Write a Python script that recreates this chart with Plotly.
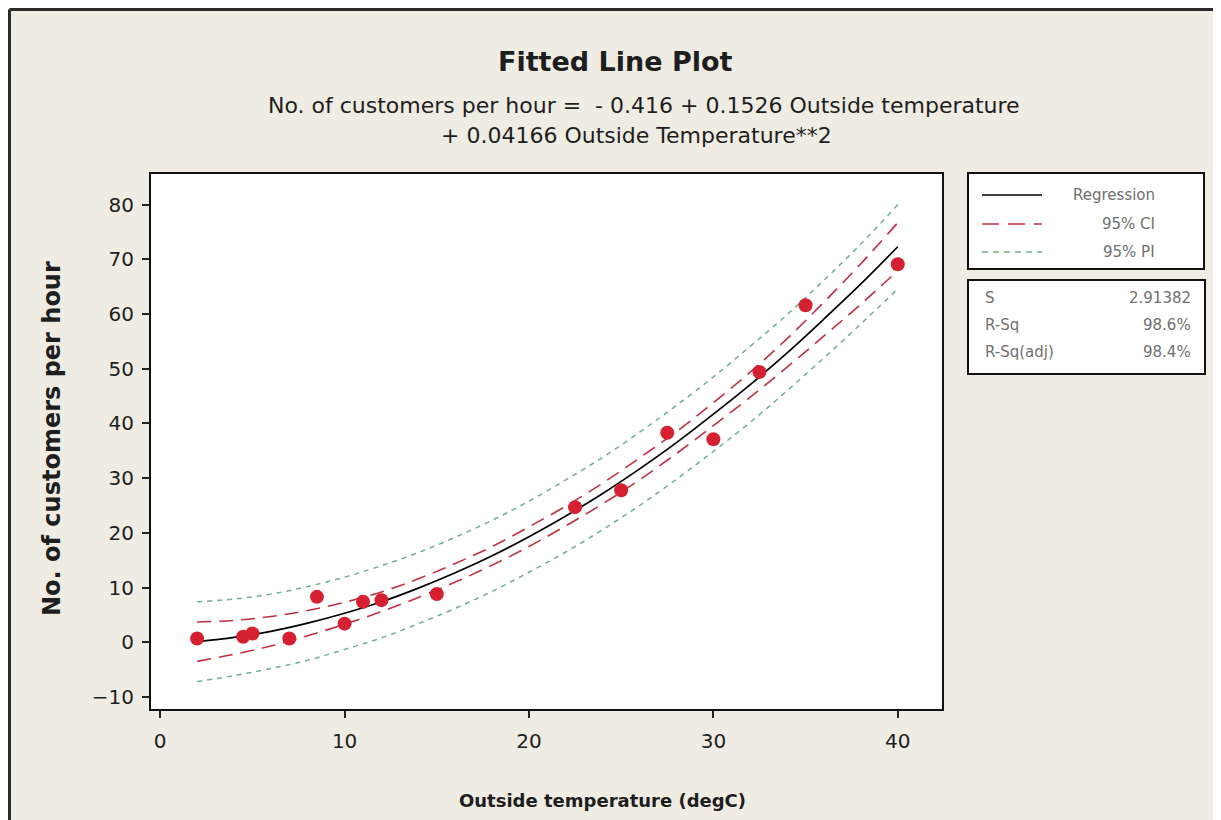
import plotly.graph_objects as go

# ---- data ----
temp = [2, 4.5, 5, 7, 8.5, 10, 11, 12, 15, 22.5, 25, 27.5, 30, 32.5, 35, 40]
customers = [0.7, 1.0, 1.6, 0.7, 8.3, 3.4, 7.4, 7.7, 8.8, 24.7, 27.8, 38.3, 37.1, 49.4, 61.6, 69.1]

band_x = [2, 4, 6, 8, 10, 12, 14, 16, 18, 20, 22, 24, 26, 28, 30, 32, 34, 36, 38, 40]
fit_y = [0.1, 0.9, 2.0, 3.5, 5.3, 7.4, 9.9, 12.7, 15.8, 19.3, 23.1, 27.2, 31.7, 36.5, 41.7, 47.1, 52.9, 59.1, 65.5, 72.3]
ci_lo = [-3.5, -2.2, -0.7, 1.2, 3.3, 5.6, 8.2, 11.0, 14.1, 17.5, 21.3, 25.3, 29.7, 34.5, 39.6, 44.8, 50.3, 56.0, 61.8, 67.9]
ci_hi = [3.7, 4.0, 4.7, 5.8, 7.3, 9.2, 11.6, 14.4, 17.5, 21.1, 24.9, 29.1, 33.7, 38.5, 43.8, 49.4, 55.5, 62.2, 69.2, 76.7]
pi_lo = [-7.2, -6.1, -4.8, -3.3, -1.3, 0.8, 3.4, 6.2, 9.3, 12.8, 16.5, 20.6, 25.0, 29.8, 34.9, 40.2, 46.0, 52.0, 58.2, 64.6]
pi_hi = [7.4, 7.9, 8.8, 10.2, 11.9, 14.0, 16.4, 19.2, 22.3, 25.8, 29.7, 33.8, 38.4, 43.3, 48.5, 54.1, 59.9, 66.2, 72.8, 80.0]

x_ticks = [0, 10, 20, 30, 40]
y_ticks = [-10, 0, 10, 20, 30, 40, 50, 60, 70, 80]

title = "Fitted Line Plot"
eq1 = "No. of customers per hour =  - 0.416 + 0.1526 Outside temperature"
eq2 = "+ 0.04166 Outside Temperature**2"
x_title = "Outside temperature (degC)"
y_title = "No. of customers per hour"
legend_labels = ["Regression", "95% CI", "95% PI"]
stat_names = ["S", "R-Sq", "R-Sq(adj)"]
stat_values = ["2.91382", "98.6%", "98.4%"]

# ---- layout geometry (screen pixels; page body has an 8px margin) ----
OFF = 8
W, H = 1221 - OFF, 820 - OFF
L, R, T, B = 151, 942, 174, 709
BG = "#efece3"
FONT = "DejaVu Sans"
TXT = "#1e1e1e"


def px(x):
    return (x - L) / (R - L)


def py(y):
    return (B - y) / (B - T)


fig = go.Figure()

fig.add_trace(go.Scatter(x=band_x, y=pi_hi, mode="lines", line=dict(color="#72b08c", width=1.5, dash="5px,5px", shape="spline"), showlegend=False, hoverinfo="skip"))
fig.add_trace(go.Scatter(x=band_x, y=pi_lo, mode="lines", line=dict(color="#72b08c", width=1.5, dash="5px,5px", shape="spline"), showlegend=False, hoverinfo="skip"))
fig.add_trace(go.Scatter(x=band_x, y=ci_hi, mode="lines", line=dict(color="#c03040", width=1.6, dash="14px,8px", shape="spline"), showlegend=False, hoverinfo="skip"))
fig.add_trace(go.Scatter(x=band_x, y=ci_lo, mode="lines", line=dict(color="#c03040", width=1.6, dash="14px,8px", shape="spline"), showlegend=False, hoverinfo="skip"))
fig.add_trace(go.Scatter(x=band_x, y=fit_y, mode="lines", line=dict(color="black", width=1.7, shape="spline"), showlegend=False, hoverinfo="skip"))
fig.add_trace(go.Scatter(x=temp, y=customers, mode="markers", marker=dict(color="#d42030", size=14, line=dict(width=0)), showlegend=False))

shapes = []
# outer frame (left and top edges of the panel)
shapes.append(dict(type="line", xref="paper", yref="paper", x0=px(OFF + 1.5), x1=px(1240), y0=py(OFF + 1.5), y1=py(OFF + 1.5), line=dict(color="#2a2a2a", width=3)))
shapes.append(dict(type="line", xref="paper", yref="paper", x0=px(OFF + 1.5), x1=px(OFF + 1.5), y0=py(OFF + 1.5), y1=py(840), line=dict(color="#2a2a2a", width=3)))
# legend boxes
shapes.append(dict(type="rect", xref="paper", yref="paper", x0=px(968), x1=px(1204), y0=py(269), y1=py(173), fillcolor="white", line=dict(color="#111", width=2)))
shapes.append(dict(type="rect", xref="paper", yref="paper", x0=px(968), x1=px(1205), y0=py(374), y1=py(280), fillcolor="white", line=dict(color="#111", width=2)))
# legend line samples
shapes.append(dict(type="line", xref="paper", yref="paper", x0=px(982), x1=px(1042), y0=py(195), y1=py(195), line=dict(color="black", width=1.5)))
shapes.append(dict(type="line", xref="paper", yref="paper", x0=px(982), x1=px(1042), y0=py(224), y1=py(224), line=dict(color="#c03040", width=1.5, dash="17px,9px")))
shapes.append(dict(type="line", xref="paper", yref="paper", x0=px(982), x1=px(1042), y0=py(252), y1=py(252), line=dict(color="#72b08c", width=1.5, dash="6px,5px")))

annotations = []


def note(text, sx, sy, size, color=TXT, anchor="center", angle=0):
    annotations.append(dict(text=text, x=px(sx), y=py(sy), xref="paper", yref="paper", showarrow=False,
                            font=dict(size=size, color=color, family=FONT), xanchor=anchor, yanchor="middle",
                            textangle=angle))


note("<b>" + title + "</b>", 615, 62, 27)
note(eq1, 644, 105, 22)
note(eq2, 636, 135, 22)
note("<b>" + x_title + "</b>", 602, 800, 18)
note("<b>" + y_title + "</b>", 52, 439, 24, angle=-90)
for lab, yy in zip(legend_labels, [195, 224, 252]):
    note(lab, 1157, yy, 15, "#707070", "right")
for nm, val, yy in zip(stat_names, stat_values, [298, 325, 352]):
    note(nm, 983, yy, 15, "#707070", "left")
    note(val, 1193, yy, 15, "#707070", "right")

fig.update_layout(
    width=W, height=H,
    margin=dict(l=L - OFF, r=W - (R - OFF), t=T - OFF, b=H - (B - OFF), autoexpand=False),
    paper_bgcolor=BG, plot_bgcolor="white",
    font=dict(family=FONT, color=TXT),
    shapes=shapes, annotations=annotations,
    showlegend=False,
)
fig.update_xaxes(range=[-0.5, 42.4], tickvals=x_ticks, ticks="outside", ticklen=7, tickwidth=1.5, tickcolor="#222",
                 showgrid=False, zeroline=False, showline=True, linecolor="#111", linewidth=2, mirror=True,
                 tickfont=dict(size=20, color=TXT), ticklabelstandoff=6)
fig.update_yaxes(range=[-12.2, 85.6], tickvals=y_ticks, ticks="outside", ticklen=7, tickwidth=1.5, tickcolor="#222",
                 showgrid=False, zeroline=False, showline=True, linecolor="#111", linewidth=2, mirror=True,
                 tickfont=dict(size=20, color=TXT), ticklabelstandoff=4)

fig.write_html("out.html")
